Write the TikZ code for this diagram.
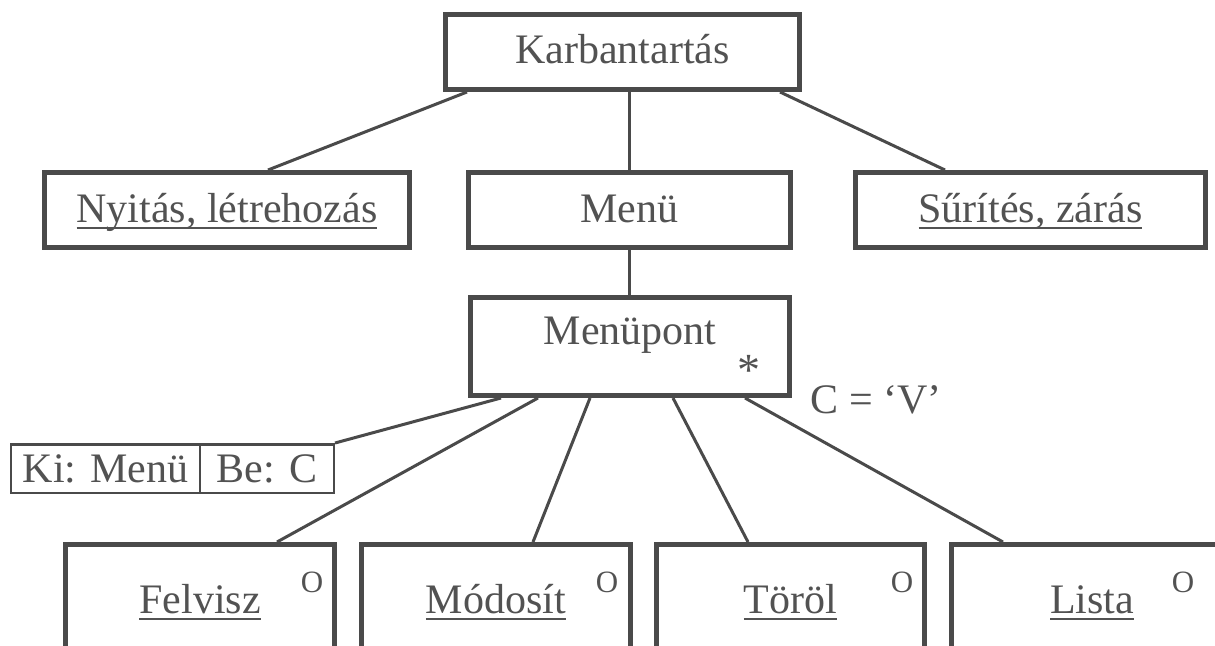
\documentclass[tikz,border=0pt]{standalone}
\usepackage{fontspec}
\setmainfont{Liberation Serif}
\definecolor{ink}{RGB}{74,74,74}
\definecolor{txt}{RGB}{82,82,82}
% underlined word with a rule a little below the baseline
\newsavebox\ulinebox
\newcommand{\uln}[1]{\sbox\ulinebox{#1}\rlap{\rule[-6.5pt]{\wd\ulinebox}{1.8pt}}\usebox\ulinebox}
\tikzset{
  box/.style={draw=ink, line width=5pt, rectangle, inner sep=0pt, text=txt,
    font=\fontsize{42}{50}\selectfont, text height=27pt, text depth=3pt},
  cell/.style={box, line width=2.5pt, text depth=0pt},
  leaf/.style={box, minimum width=269pt, minimum height=155pt, text depth=45pt},
  link/.style={draw=ink, line width=3pt},
  note/.style={text=txt, inner sep=0pt, font=\fontsize{42}{50}\selectfont},
  omark/.style={text=txt, inner sep=0pt, font=\fontsize{31}{36}\selectfont}
}
\begin{document}
\begin{tikzpicture}[x=1pt,y=-1pt]
\useasboundingbox (0,0) rectangle (1215,645);
\clip (0,0) rectangle (1215,645);
\fill[white] (0,0) rectangle (1215,645);

% top levels
\node[box, minimum width=354pt, minimum height=75pt, text depth=5pt] (karb) at (622.5,52) {Karbantartás};
\node[box, minimum width=365pt, minimum height=75pt] (nyit) at (227,210) {\uln{Nyitás, létrehozás}};
\node[box, minimum width=322pt, minimum height=75pt] (menu) at (629.5,210) {Menü};
\node[box, minimum width=350pt, minimum height=75pt] (surit) at (1030.5,210) {\uln{Sűrítés, zárás}};
\node[box, minimum width=319pt, minimum height=98pt, text depth=32pt] (mp) at (630,346.5) {Menüpont};
\node[note, font=\fontsize{46}{50}\selectfont, text height=42pt, text depth=0pt] (star) at (749,364) {*};
\node[note, text height=27pt, text depth=0pt] (cond) at (876,400) {C = ‘V’};

% data box
\node[cell, minimum width=188.75pt, minimum height=48.5pt] (ki) at (105.6,468.5) {Ki: Menü};
\node[cell, minimum width=133.75pt, minimum height=48.5pt] (be) at (266.9,468.5) {Be: C};

% selections
\node[leaf] (felv) at (200,622) {\uln{Felvisz}};
\node[leaf] (mod) at (496,622) {\uln{Módosít}};
\node[leaf, minimum width=268pt] (tor) at (790.5,622) {\uln{Töröl}};
\node[leaf, minimum width=281pt] (lista) at (1092,622) {\uln{Lista}\hspace{34pt}};
\node[omark] (felvO) at ([xshift=-25pt,yshift=-40pt]felv.north east) {O};
\node[omark] (modO) at ([xshift=-26pt,yshift=-40pt]mod.north east) {O};
\node[omark] (torO) at ([xshift=-25pt,yshift=-40pt]tor.north east) {O};
\node[omark] (listaO) at ([xshift=234pt,yshift=-40pt]lista.north west) {O};

% connectors
\draw[link] ([xshift=-155.5pt]karb.south) -- ([xshift=41pt]nyit.north);
\draw[link] (menu.north |- karb.south) -- (menu.north);
\draw[link] ([xshift=157.5pt]karb.south) -- ([xshift=-85.5pt]surit.north);
\draw[link] (menu.south) -- (menu.south |- mp.north);
\draw[link] ([xshift=-129pt]mp.south) -- (be.north east);
\draw[link] ([xshift=-92pt]mp.south) -- ([xshift=77pt]felv.north);
\draw[link] ([xshift=-40pt]mp.south) -- ([xshift=37pt]mod.north);
\draw[link] ([xshift=43pt]mp.south) -- ([xshift=-42.5pt]tor.north);
\draw[link] ([xshift=115pt]mp.south) -- ([xshift=54pt]lista.north west);
\end{tikzpicture}
\end{document}
